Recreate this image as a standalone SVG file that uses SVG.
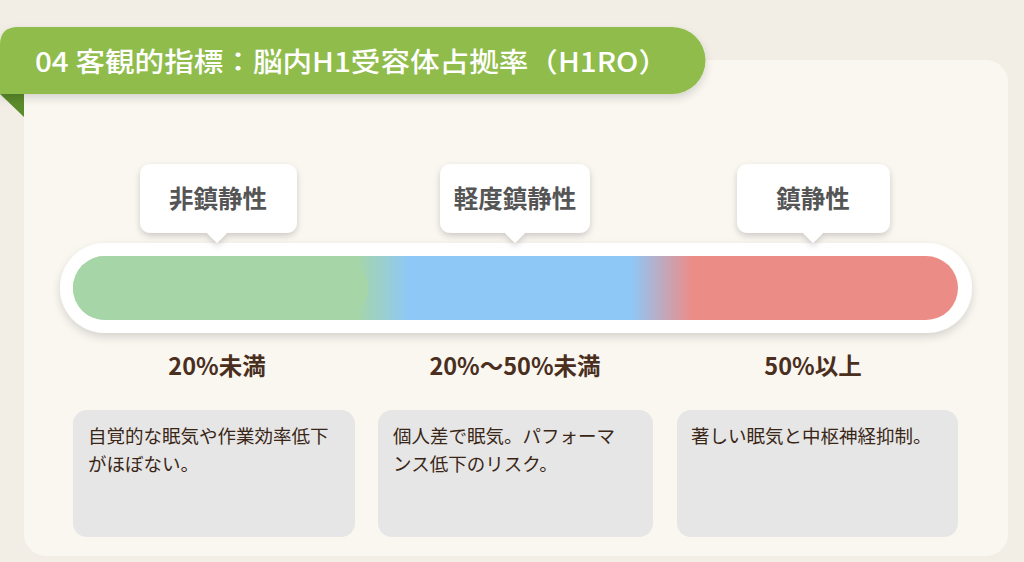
<svg xmlns="http://www.w3.org/2000/svg" width="1024" height="562" viewBox="0 0 1024 562">
<defs>
<style>
.cjk{font-family:"Noto Sans CJK JP","Noto Sans",sans-serif;}
.bub{fill:#fff;filter:url(#sh);}
.bubt{font-size:24.5px;font-weight:700;fill:#555;text-anchor:middle;}
.rng{font-size:23.5px;font-weight:700;fill:#4a2f1e;text-anchor:middle;}
.box{fill:#e6e6e6;}
.desc{font-size:18.5px;fill:#3a2616;}
</style>
<filter id="sh" x="-20%" y="-30%" width="140%" height="170%">
<feDropShadow dx="0" dy="3" stdDeviation="3" flood-color="#000" flood-opacity="0.18"/>
</filter>
<filter id="sh2" x="-10%" y="-30%" width="120%" height="170%">
<feDropShadow dx="0" dy="4" stdDeviation="4" flood-color="#000" flood-opacity="0.15"/>
</filter>
<linearGradient id="bar" x1="73" y1="0" x2="958" y2="0" gradientUnits="userSpaceOnUse">
<stop offset="0" stop-color="#a6d6a7"/>
<stop offset="0.32" stop-color="#a6d6a7"/>
<stop offset="0.38" stop-color="#8ec8f6"/>
<stop offset="0.63" stop-color="#8ec8f6"/>
<stop offset="0.70" stop-color="#ec8c87"/>
<stop offset="1" stop-color="#ec8c87"/>
</linearGradient>
</defs>
<rect width="1024" height="562" fill="#f2eee5"/>
<rect x="24" y="60" width="984" height="496" rx="22" fill="#faf7f1"/>

<g id="title">
<path d="M0,94 L24,94 L24,117 Z" fill="#5b8b2b"/>
<path d="M0,45 Q0,27 18,27 L672,27 A33.5,33.5 0 0 1 672,94 L0,94 Z" fill="#8fbc4c" filter="url(#sh2)"/>
<text x="35" y="72" class="cjk" font-size="27" font-weight="500" fill="#fff" textLength="633" lengthAdjust="spacingAndGlyphs">04 客観的指標：脳内H1受容体占拠率（H1RO）</text>
</g>

<g id="bar">
<rect x="60" y="243" width="912" height="90" rx="45" fill="#fff" filter="url(#sh2)"/>
<rect x="73" y="256" width="885" height="64" rx="32" fill="url(#bar)"/>
<rect x="73" y="256" width="295" height="64" rx="32" fill="#a6d6a7"/>
</g>

<g id="label-nonsedative">
<path class="bub" d="M152,164 H285 Q297,164 297,176 V221 Q297,233 285,233 H227 L217,243 L207,233 H152 Q140,233 140,221 V176 Q140,164 152,164 Z"/>
<text x="218" y="208" class="cjk bubt">非鎮静性</text>
</g>
<g id="label-mild">
<path class="bub" d="M452,164 H578 Q590,164 590,176 V221 Q590,233 578,233 H525 L515,243 L505,233 H452 Q440,233 440,221 V176 Q440,164 452,164 Z"/>
<text x="515" y="208" class="cjk bubt">軽度鎮静性</text>
</g>
<g id="label-sedative">
<path class="bub" d="M749,164 H878 Q890,164 890,176 V221 Q890,233 878,233 H823 L813,243 L803,233 H749 Q737,233 737,221 V176 Q737,164 749,164 Z"/>
<text x="813" y="208" class="cjk bubt">鎮静性</text>
</g>

<g id="range-1"><text x="217" y="375" class="cjk rng">20%未満</text></g>
<g id="range-2"><text x="515" y="375" class="cjk rng">20%〜50%未満</text></g>
<g id="range-3"><text x="813" y="375" class="cjk rng">50%以上</text></g>

<g id="desc-1">
<rect class="box" x="73" y="410" width="282" height="127" rx="14"/>
<text class="cjk desc" x="88" y="443">自覚的な眠気や作業効率低下</text>
<text class="cjk desc" x="88" y="471">がほぼない。</text>
</g>
<g id="desc-2">
<rect class="box" x="378" y="410" width="275" height="127" rx="14"/>
<text class="cjk desc" x="393" y="443">個人差で眠気。パフォーマ</text>
<text class="cjk desc" x="393" y="471">ンス低下のリスク。</text>
</g>
<g id="desc-3">
<rect class="box" x="677" y="410" width="281" height="127" rx="14"/>
<text class="cjk desc" x="691" y="443">著しい眠気と中枢神経抑制。</text>
</g>
</svg>
